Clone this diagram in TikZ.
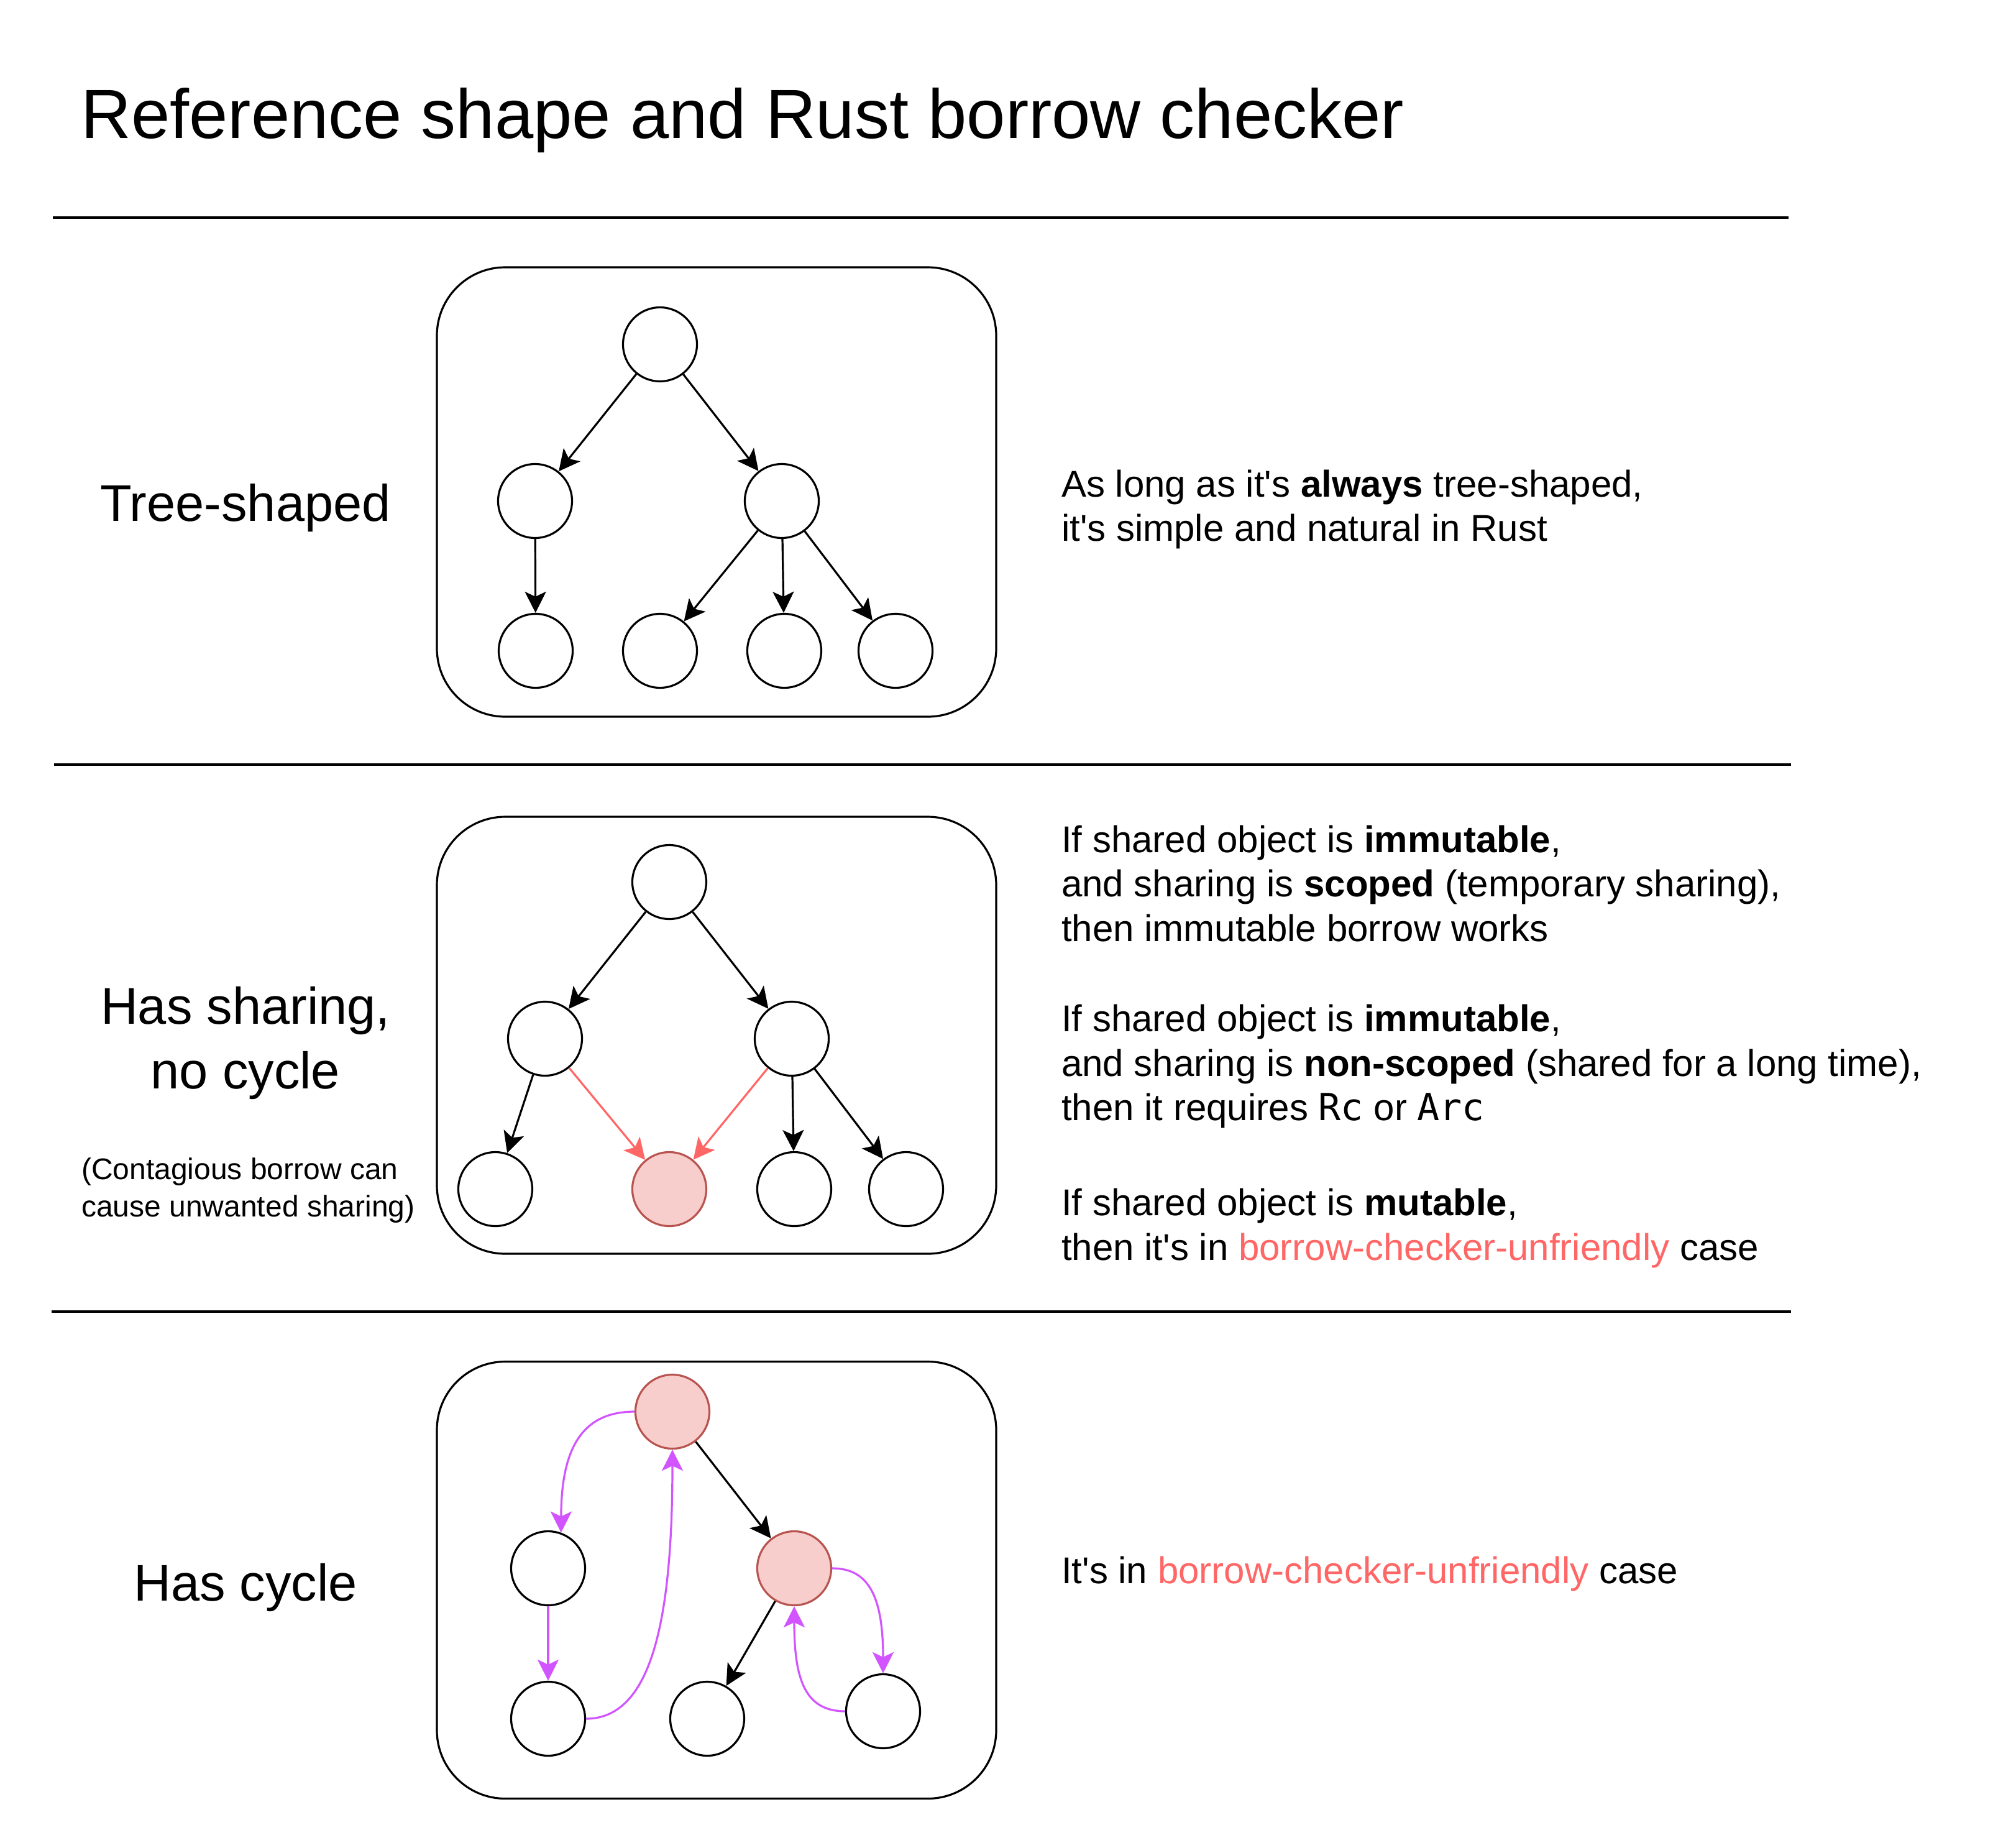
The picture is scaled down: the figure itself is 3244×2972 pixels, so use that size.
\documentclass[tikz,border=0pt]{standalone}
\usepackage{fontspec}
\setmainfont{Liberation Sans}[Ligatures=TeXOff]
\newfontfamily\codefont{DejaVu Sans Mono}
\usetikzlibrary{arrows.meta,calc}
\definecolor{pinkfill}{HTML}{F8CECC}
\definecolor{pinkdraw}{HTML}{B85450}
\definecolor{redline}{HTML}{FF6666}
\definecolor{purp}{HTML}{D154FF}
\begin{document}
\begin{tikzpicture}[x=1pt,y=-1pt,
  nd/.style={circle,draw=black,line width=3.2pt,minimum size=119pt,inner sep=0pt,fill=white},
  pk/.style={nd,fill=pinkfill,draw=pinkdraw},
  frame/.style={draw=black,line width=3.2pt,rounded corners=110pt,inner sep=0pt,minimum width=900pt,minimum height=703pt},
  arr/.style={line width=3.2pt,-{Stealth[length=34pt,width=34pt,inset=8pt]}},
  redarr/.style={arr,draw=redline},
  purarr/.style={arr,draw=purp},
  sep/.style={line width=3.5pt},
  body/.style={font=\fontsize{60}{72}\selectfont,anchor=base west,inner sep=0pt},
  label/.style={font=\fontsize{83}{100}\selectfont,anchor=base,inner sep=0pt},
  small/.style={font=\fontsize{48}{58}\selectfont,anchor=base west,inner sep=0pt},
  ttl/.style={font=\fontsize{112}{130}\selectfont,anchor=base west,inner sep=0pt}
]
\useasboundingbox (0,0) rectangle (3244,2972);
\fill[white] (0,0) rectangle (3244,2972);

% title
\node[ttl] (title) at (130,222) {Reference shape and Rust borrow checker};

% separators
\coordinate (s1a) at (85,350);   \coordinate (s1b) at (2878,350);
\coordinate (s2a) at (87,1230);  \coordinate (s2b) at (2882,1230);
\coordinate (s3a) at (83,2110);  \coordinate (s3b) at (2882,2110);
\draw[sep] (s1a) -- (s1b);
\draw[sep] (s2a) -- (s2b);
\draw[sep] (s3a) -- (s3b);

% left labels
\node[label] (lab1) at (395,838) {Tree-shaped};
\node[label] (lab2a) at (395,1647) {Has sharing,};
\node[label] (lab2b) at (395,1751) {no cycle};
\node[small] (lab2c) at (131,1897) {(Contagious borrow can};
\node[small] (lab2d) at (131,1957) {cause unwanted sharing)};
\node[label] (lab3) at (395,2575) {Has cycle};

% frames
\node[frame, minimum height=723pt] (box1) at (1153,791.5) {};
\node[frame] (box2) at (1153,1665.5) {};
\node[frame] (box3) at (1153,2542) {};

% tree 1
\node[nd] (r1) at (1062,554) {};
\node[nd] (a1) at (861,806) {};
\node[nd] (b1) at (1258,806) {};
\node[nd] (c1) at (862,1047) {};
\node[nd] (d1) at (1062,1047) {};
\node[nd] (e1) at (1262,1047) {};
\node[nd] (f1) at (1441,1047) {};
\draw[arr] (r1) -- (a1);
\draw[arr] (r1) -- (b1);
\draw[arr] (a1) -- (c1);
\draw[arr] (b1) -- (d1);
\draw[arr] (b1) -- (e1);
\draw[arr] (b1) -- (f1);

% tree 2
\node[nd] (r2) at (1077,1419) {};
\node[nd] (a2) at (877,1671) {};
\node[nd] (b2) at (1274,1671) {};
\node[nd] (c2) at (797,1913) {};
\node[pk] (p2) at (1077,1913) {};
\node[nd] (e2) at (1278,1913) {};
\node[nd] (f2) at (1458,1913) {};
\draw[arr] (r2) -- (a2);
\draw[arr] (r2) -- (b2);
\draw[arr] (a2) -- (c2);
\draw[redarr] (a2) -- (p2);
\draw[redarr] (b2) -- (p2);
\draw[arr] (b2) -- (e2);
\draw[arr] (b2) -- (f2);

% tree 3
\node[pk] (r3) at (1082,2271) {};
\node[nd] (a3) at (882,2523) {};
\node[pk] (b3) at (1278,2523) {};
\node[nd] (c3) at (882,2765) {};
\node[nd] (d3) at (1138,2765) {};
\node[nd] (f3) at (1421,2753) {};
\draw[arr] (r3) -- (b3);
\draw[arr] (b3) -- (d3);
\draw[purarr] (r3.west) .. controls +(-84,0) and ($(a3.70)+(0,-136)$) .. (a3.70);
\draw[purarr] (a3.south) -- (c3.north);
\draw[purarr] (c3.east) .. controls +(107,0) and ($(r3.south)+(0,269)$) .. (r3.south);
\draw[purarr] (b3.east) .. controls +(59,0) and ($(f3.north)+(0,-123)$) .. (f3.north);
\draw[purarr] (f3.west) .. controls +(-65,0) and ($(b3.south)+(0,117)$) .. (b3.south);

% right texts
\node[body] (t1) at (1708,799) {As long as it's \textbf{always} tree-shaped,};
\node[body] (t2) at (1708,870) {it's simple and natural in Rust};

\node[body] (m1) at (1708,1371) {If shared object is \textbf{immutable},};
\node[body] (m2) at (1708,1442) {and sharing is \textbf{scoped} (temporary sharing),};
\node[body] (m3) at (1708,1514) {then immutable borrow works};
\node[body] (m4) at (1708,1659) {If shared object is \textbf{immutable},};
\node[body] (m5) at (1708,1731) {and sharing is \textbf{non-scoped} (shared for a long time),};
\node[body] (m6) at (1708,1802) {then it requires {\codefont Rc} or {\codefont Arc}};
\node[body] (m7) at (1708,1955) {If shared object is \textbf{mutable},};
\node[body] (m8) at (1708,2027) {then it's in \textcolor{redline}{borrow-checker-unfriendly} case};

\node[body] (u1) at (1708,2547) {It's in \textcolor{redline}{borrow-checker-unfriendly} case};
\end{tikzpicture}
\end{document}
